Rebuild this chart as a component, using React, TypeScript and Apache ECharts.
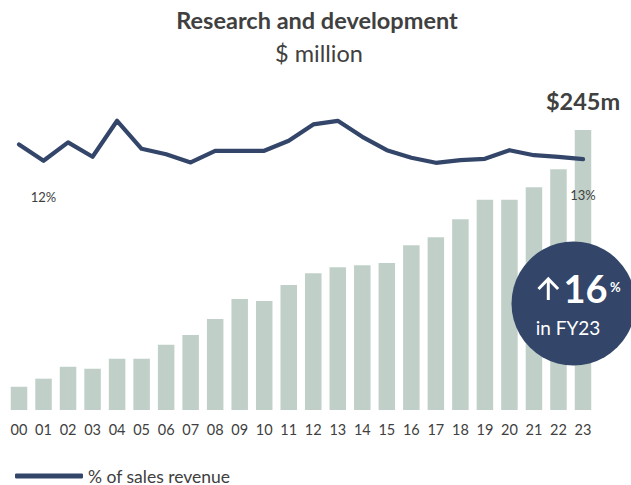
import React, { useEffect, useRef } from "react";
import * as echarts from "echarts";

const years = ["00","01","02","03","04","05","06","07","08","09","10","11","12","13","14","15","16","17","18","19","20","21","22","23"];
const rdSpend = [20.4, 27.4, 37.9, 36.1, 44.9, 44.9, 57.1, 65.6, 79.6, 97.1, 95.4, 109.4, 119.6, 124.9, 126.6, 128.6, 144.1, 151.1, 166.9, 184, 184, 194.9, 210.6, 245];
const pctOfSales = [13.28, 12.46, 13.38, 12.66, 14.46, 13.06, 12.79, 12.38, 12.96, 12.96, 12.96, 13.46, 14.28, 14.46, 13.66, 12.99, 12.61, 12.36, 12.49, 12.56, 12.99, 12.74, 12.66, 12.54];
const pctLabelIdx = [1, 23];
const lineName = "% of sales revenue";

const FONT = "Lato, 'Open Sans', sans-serif";
const TXT = "#404040";
const NAVY = "#33466A";

export default function App() {
  const ref = useRef<HTMLDivElement>(null);
  useEffect(() => {
    if (!ref.current) return;
    const chart = echarts.init(ref.current, null, { renderer: "svg" });
    const last = rdSpend.length - 1;
    const growth = Math.round((rdSpend[last] / rdSpend[last - 1] - 1) * 100);
    const gridTop = 410 - 342.857;
    chart.setOption({
      animation: false,
      textStyle: { fontFamily: FONT },
      grid: { left: 6.74, right: 35.74, top: gridTop, bottom: 485 - 410, containLabel: false },
      xAxis: {
        type: "category",
        data: years,
        axisLine: { show: false },
        axisTick: { show: false },
        axisLabel: { color: TXT, fontSize: 14.5, fontFamily: FONT, margin: 12 },
      },
      yAxis: [
        { type: "value", min: 0, max: 300, show: false, splitLine: { show: false } },
        { type: "value", min: 0, max: 17.143, show: false, splitLine: { show: false } },
      ],
      legend: {
        data: [lineName],
        left: 10,
        top: 462,
        icon: "roundRect",
        itemWidth: 68,
        itemHeight: 5,
        itemGap: 6,
        textStyle: { color: TXT, fontSize: 17.5, fontFamily: FONT },
      },
      series: [
        {
          type: "bar",
          name: "R&D",
          data: rdSpend.map((v, i) =>
            i === last
              ? {
                  value: v,
                  label: {
                    show: true,
                    position: "top",
                    distance: 17,
                    formatter: (p: any) => `$${p.value}m`,
                    color: TXT,
                    fontSize: 23.5,
                    fontWeight: "bold",
                    fontFamily: FONT,
                  },
                }
              : v
          ),
          barWidth: 16.5,
          itemStyle: { color: "#C0D0C8" },
          yAxisIndex: 0,
          z: 1,
        },
        {
          type: "line",
          name: lineName,
          yAxisIndex: 1,
          data: pctOfSales.map((v, i) =>
            pctLabelIdx.includes(i)
              ? {
                  value: v,
                  label: {
                    show: true,
                    position: "bottom",
                    distance: 29,
                    formatter: (p: any) => `${Math.round(p.value)}%`,
                    color: TXT,
                    fontSize: 13,
                    fontFamily: FONT,
                  },
                }
              : v
          ),
          symbol: "circle",
          symbolSize: 1,
          showSymbol: true,
          lineStyle: { color: NAVY, width: 4.2, join: "round", cap: "round" },
          itemStyle: { color: NAVY },
          z: 3,
        },
      ],
      graphic: [
        {
          type: "text",
          x: 317,
          y: 20,
          style: {
            text: "Research and development",
            fill: TXT,
            font: `bold 23.5px ${FONT}`,
            textAlign: "center",
            textVerticalAlign: "middle",
          },
        },
        {
          type: "text",
          x: 319,
          y: 53,
          style: {
            text: "$ million",
            fill: TXT,
            font: `23.5px ${FONT}`,
            textAlign: "center",
            textVerticalAlign: "middle",
          },
        },
        {
          type: "circle",
          shape: { cx: 573.5, cy: 303.5, r: 62 },
          style: { fill: NAVY },
          z: 10,
        },
        {
          type: "line",
          shape: { x1: 548.3, y1: 300, x2: 548.3, y2: 279 },
          style: { stroke: "#fff", lineWidth: 3 },
          z: 11,
        },
        {
          type: "polyline",
          shape: { points: [[538.5, 289], [548.3, 279], [558.1, 289]] },
          style: { stroke: "#fff", lineWidth: 3, fill: null },
          z: 11,
        },
        {
          type: "text",
          x: 563.5,
          y: 288,
          z: 11,
          style: {
            text: `${growth}`,
            fill: "#fff",
            font: `bold 38px ${FONT}`,
            textAlign: "left",
            textVerticalAlign: "middle",
          },
        },
        {
          type: "text",
          x: 610,
          y: 287,
          z: 11,
          style: {
            text: "%",
            fill: "#fff",
            font: `bold 13px ${FONT}`,
            textAlign: "left",
            textVerticalAlign: "middle",
          },
        },
        {
          type: "text",
          x: 568,
          y: 327,
          z: 11,
          style: {
            text: "in FY23",
            fill: "#fff",
            font: `19px ${FONT}`,
            textAlign: "center",
            textVerticalAlign: "middle",
          },
        },
      ],
    });
    return () => chart.dispose();
  }, []);
  return (
    <div
      ref={ref}
      style={{ position: "fixed", left: 0, top: 0, width: 631, height: 485, background: "#fff" }}
    />
  );
}
